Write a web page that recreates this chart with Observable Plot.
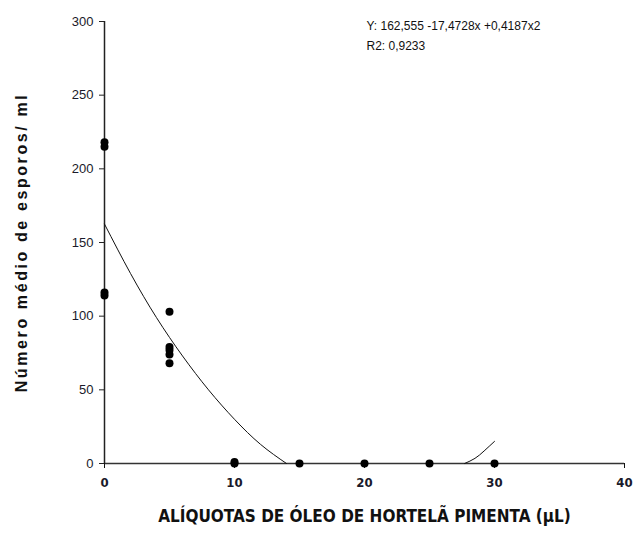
<!DOCTYPE html>
<html><head><meta charset="utf-8">
<script src="https://cdn.jsdelivr.net/npm/d3@7"></script>
<script src="https://cdn.jsdelivr.net/npm/@observablehq/plot@0.6"></script>
<style>
body{margin:0;background:#fff;}
svg{display:block;}
</style></head>
<body><div id="chart"></div>
<script>
const aliquotX = [0,0,0,0, 5,5,5,5,5, 10,10, 15, 20, 25, 30];
const esporosY = [218,215,116,114, 103,79,77,74,68, 1,0, 0, 0, 0, 0];
// fitted curve (drawn only where y >= 0)
const fitX1 = [0,2,4,6,8,10,12,14];
const fitY1 = [162.5,129,99,73,50,30,13,0];
const fitX2 = [27.7,28.5,29.2,30];
const fitY2 = [0,3.5,8.5,15];
const xTicks = [0,10,20,30,40];
const yTicks = [0,50,100,150,200,250,300];
const equation = "Y: 162,555 -17,4728x +0,4187x2";
const r2 = "R2: 0,9233";
const xTitle = "ALÍQUOTAS DE ÓLEO DE HORTELÃ PIMENTA (µL)";
const yTitle = "Número médio de esporos/ ml";

const pts = aliquotX.map((x,i)=>({x, y: esporosY[i]}));
const f1 = fitX1.map((x,i)=>({x, y: fitY1[i]}));
const f2 = fitX2.map((x,i)=>({x, y: fitY2[i]}));
const narrow = "'Liberation Sans Narrow','DejaVu Sans Condensed',Arial,sans-serif";

const chart = Plot.plot({
  width: 633, height: 536,
  marginLeft: 104, marginRight: 9, marginTop: 21, marginBottom: 73,
  style: {fontFamily: "'Liberation Sans', Arial, sans-serif", fontSize: "12px", color: "#111", background: "#fff"},
  x: {domain: [0,40], ticks: xTicks, label: null},
  y: {domain: [0,300], ticks: yTicks, label: null},
  marks: [
    Plot.ruleY([0], {stroke: "#333", strokeWidth: 1.5}),
    Plot.ruleX([0], {stroke: "#222", strokeWidth: 1.5}),
    Plot.axisY({ticks: yTicks, tickSize: 5, tickPadding: 6, stroke: "#222", fontSize: 13, fill: "#1a1a2a"}),
    Plot.axisX({ticks: xTicks, tickSize: 5, tickPadding: 9, fontSize: 13, fontWeight: "bold", fontFamily: narrow, fill: "#1a1a2a"}),
    Plot.line(f1, {x: "x", y: "y", curve: "natural", stroke: "#111", strokeWidth: 1}),
    Plot.line(f2, {x: "x", y: "y", curve: "natural", stroke: "#111", strokeWidth: 1}),
    Plot.dot(pts, {x: "x", y: "y", r: 4, fill: "#000", stroke: "none"}),
    Plot.text([equation], {frameAnchor: "top-left", dx: 262, dy: 0, textAnchor: "start", fontSize: 12, fill: "#111"}),
    Plot.text([r2], {frameAnchor: "top-left", dx: 262, dy: 20, textAnchor: "start", fontSize: 12, fill: "#111"}),
    Plot.text([xTitle], {frameAnchor: "bottom", dy: 58, fontSize: 17, fontWeight: "bold", fontFamily: narrow, fill: "#111"}),
    Plot.text([yTitle], {frameAnchor: "left", dx: -83, dy: 0, rotate: -90, textAnchor: "middle", fontSize: 16, fontWeight: "bold", fill: "#111"})
  ]
});
d3.select(chart).selectAll("text").filter(function(){ return this.textContent === yTitle; }).style("letter-spacing", "2.6px");
document.getElementById("chart").appendChild(chart);
</script></body></html>
